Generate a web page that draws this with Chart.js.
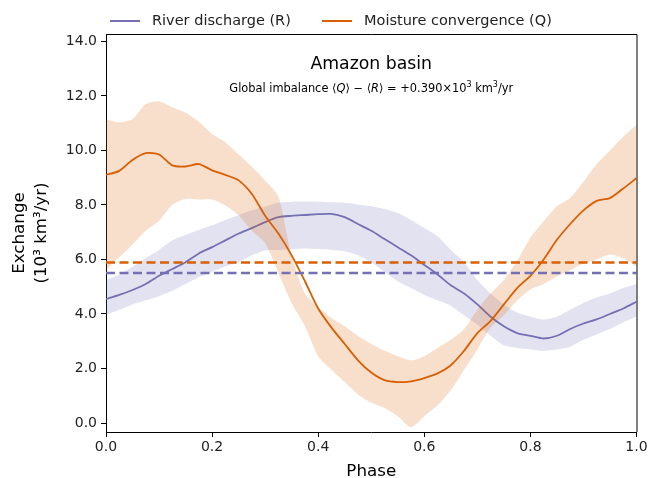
<!DOCTYPE html>
<html>
<head>
<meta charset="utf-8">
<script src="https://cdn.jsdelivr.net/npm/chart.js@4.4.0/dist/chart.umd.min.js"></script>
<style>
  html, body { margin: 0; padding: 0; background: #fff; }
  canvas { display: block; }
</style>
</head>
<body>
<canvas id="chart" width="648" height="478"></canvas>
<script>
// phase grid
const phase = [0, 0.025, 0.05, 0.075, 0.1, 0.125, 0.15, 0.175, 0.2, 0.225,
  0.25, 0.275, 0.3, 0.325, 0.35, 0.375, 0.4, 0.425, 0.45, 0.475,
  0.5, 0.525, 0.55, 0.575, 0.6, 0.625, 0.65, 0.675, 0.7, 0.725,
  0.75, 0.775, 0.8, 0.825, 0.85, 0.875, 0.9, 0.925, 0.95, 0.975, 1.0];

// river discharge R (mean curve + band)
const riverMean = [4.55, 4.7, 4.88, 5.1, 5.4, 5.65, 5.9, 6.22, 6.45, 6.7,
  6.95, 7.15, 7.37, 7.55, 7.6, 7.63, 7.66, 7.67, 7.55, 7.3,
  7.05, 6.75, 6.45, 6.15, 5.8, 5.45, 5.05, 4.75, 4.35, 3.9,
  3.55, 3.3, 3.2, 3.1, 3.2, 3.45, 3.65, 3.8, 4.0, 4.2, 4.45];
const riverUpper = [5.25, 5.45, 5.73, 6.05, 6.35, 6.7, 6.9, 7.08, 7.25, 7.45,
  7.62, 7.8, 7.94, 8.08, 8.12, 8.12, 8.12, 8.1, 8.08, 8.02,
  7.95, 7.85, 7.7, 7.45, 7.15, 6.85, 6.35, 5.9, 5.25, 4.75,
  4.35, 4.05, 3.9, 3.8, 3.9, 4.15, 4.4, 4.6, 4.75, 4.95, 5.1];
const riverLower = [3.96, 4.15, 4.35, 4.5, 4.65, 4.85, 5.1, 5.35, 5.55, 5.75,
  5.9, 6.15, 6.33, 6.35, 6.37, 6.4, 6.38, 6.35, 6.3, 6.15,
  5.9, 5.55, 5.2, 4.95, 4.7, 4.5, 4.3, 3.95, 3.6, 3.2,
  2.85, 2.75, 2.7, 2.65, 2.7, 2.8, 3.05, 3.25, 3.45, 3.7, 3.9];

// moisture convergence Q (mean curve + band)
const moistMean = [9.1, 9.25, 9.65, 9.9, 9.85, 9.45, 9.41, 9.5, 9.27, 9.1,
  8.9, 8.4, 7.6, 6.95, 6.15, 5.2, 4.2, 3.5, 2.9, 2.3,
  1.85, 1.57, 1.5, 1.53, 1.65, 1.82, 2.12, 2.65, 3.3, 3.75,
  4.35, 4.95, 5.4, 6.0, 6.72, 7.3, 7.8, 8.15, 8.25, 8.6, 8.98];
const moistUpper = [11.13, 11.03, 11.15, 11.7, 11.8, 11.58, 11.38, 11.05, 10.6, 10.3,
  9.85, 9.4, 8.9, 8.3, 6.1, 4.75, 4.25, 3.85, 3.55, 3.2,
  2.9, 2.65, 2.45, 2.3, 2.45, 2.75, 3.05, 3.45, 4.15, 4.75,
  5.25, 5.95, 6.8, 7.4, 7.95, 8.25, 8.85, 9.5, 10.0, 10.5, 10.94];
const moistLower = [5.61, 6.08, 6.55, 7.05, 7.42, 8.0, 8.22, 8.2, 8.2, 7.98,
  7.62, 7.05, 6.6, 5.5, 4.4, 3.55, 2.45, 1.95, 1.5, 1.05,
  0.75, 0.55, 0.25, -0.15, 0.25, 0.65, 1.2, 1.95, 2.7, 3.5,
  3.95, 4.5, 4.9, 5.1, 5.37, 5.6, 5.85, 6.0, 6.18, 6.05, 5.73];

// time means
const riverAvg = 5.5;
const moistAvg = 5.89;

const yTicks = [0, 2, 4, 6, 8, 10, 12, 14];
const xTicks = [0, 0.2, 0.4, 0.6, 0.8, 1.0];

const PURPLE = '#7570b3';
const ORANGE = '#d95f02';
const FONT = "'DejaVu Sans', sans-serif";

const pts = arr => arr.map((v, i) => ({ x: phase[i], y: v }));
const flat = v => [{ x: 0, y: v }, { x: 1, y: v }];

const band = (data, color, order, fill) => ({
  data: pts(data), borderWidth: 0, pointRadius: 0, tension: 0.25,
  backgroundColor: color, fill: fill, order: order
});

const frameAndText = {
  id: 'frameAndText',
  afterDraw(chart) {
    const ctx = chart.ctx;
    const a = chart.chartArea;
    ctx.save();
    // top + right spines
    ctx.strokeStyle = '#000';
    ctx.lineWidth = 1;
    ctx.beginPath();
    ctx.moveTo(a.left, a.top + 0.5);
    ctx.lineTo(a.right + 0.5, a.top + 0.5);
    ctx.lineTo(a.right + 0.5, a.bottom);
    ctx.stroke();

    // legend
    const items = [chart.data.datasets[2], chart.data.datasets[5]];
    const lx = [110, 322];
    ctx.font = '14.5px ' + FONT;
    ctx.textBaseline = 'middle';
    ctx.fillStyle = '#222';
    items.forEach((ds, i) => {
      ctx.strokeStyle = ds.borderColor;
      ctx.lineWidth = 2;
      ctx.beginPath();
      ctx.moveTo(lx[i], 21);
      ctx.lineTo(lx[i] + 30, 21);
      ctx.stroke();
      ctx.fillText(ds.label, lx[i] + 42, 21.5);
    });

    // title
    const cx = (a.left + a.right) / 2;
    ctx.textAlign = 'center';
    ctx.textBaseline = 'alphabetic';
    ctx.font = '17.3px ' + FONT;
    ctx.fillStyle = '#000';
    ctx.fillText('Amazon basin', cx, 69);

    // subtitle with italics and superscripts
    const parts = [
      ['Global imbalance \u27E8', 'n'], ['Q', 'i'], ['\u27E9 \u2212 \u27E8', 'n'], ['R', 'i'],
      ['\u27E9 = +0.390\u00D710', 'n'], ['3', 's'], [' km', 'n'], ['3', 's'], ['/yr', 'n']
    ];
    const fontFor = k => k === 'i' ? 'italic 11.4px ' + FONT : (k === 's' ? '8px ' + FONT : '11.4px ' + FONT);
    let total = 0;
    parts.forEach(p => { ctx.font = fontFor(p[1]); total += ctx.measureText(p[0]).width; });
    let x = cx - total / 2;
    ctx.textAlign = 'left';
    parts.forEach(p => {
      ctx.font = fontFor(p[1]);
      ctx.fillText(p[0], x, p[1] === 's' ? 87 : 91.5);
      x += ctx.measureText(p[0]).width;
    });
    ctx.restore();
  }
};

new Chart(document.getElementById('chart'), {
  type: 'line',
  data: {
    datasets: [
      band(riverUpper, 'rgba(117,112,179,0.2)', 8, '+1'),
      band(riverLower, 'rgba(117,112,179,0.2)', 8, false),
      { label: 'River discharge (R)', data: pts(riverMean), borderColor: PURPLE, borderWidth: 1.8,
        pointRadius: 0, tension: 0.25, fill: false, order: 7 },
      band(moistUpper, 'rgba(217,95,2,0.2)', 6, '+1'),
      band(moistLower, 'rgba(217,95,2,0.2)', 6, false),
      { label: 'Moisture convergence (Q)', data: pts(moistMean), borderColor: ORANGE, borderWidth: 1.8,
        pointRadius: 0, tension: 0.25, fill: false, order: 5 },
      { data: flat(riverAvg), borderColor: PURPLE, borderWidth: 2.5, borderDash: [9, 4.5],
        pointRadius: 0, fill: false, order: 2 },
      { data: flat(moistAvg), borderColor: ORANGE, borderWidth: 2.5, borderDash: [9, 4.5],
        pointRadius: 0, fill: false, order: 1 }
    ]
  },
  options: {
    responsive: false,
    animation: false,
    layout: { padding: { top: 34, right: 0, left: 0, bottom: 0 } },
    plugins: { legend: { display: false }, tooltip: { enabled: false } },
    scales: {
      x: {
        type: 'linear', min: 0, max: 1,
        afterBuildTicks: s => { s.ticks = xTicks.map(v => ({ value: v })); },
        afterFit: s => { s.height = 46; s.paddingRight = 11.5; s.paddingLeft = 0; },
        grid: { drawOnChartArea: false, drawTicks: true, tickLength: 5, color: '#000' },
        border: { color: '#000', width: 1 },
        ticks: { color: '#222', font: { family: FONT, size: 14 }, padding: 2, maxRotation: 0,
          callback: v => Number(v).toFixed(1) },
        title: { display: true, text: 'Phase', color: '#000', font: { family: FONT, size: 16.7 }, padding: { top: 0, bottom: -4 } }
      },
      y: {
        min: -0.33, max: 14.27,
        afterBuildTicks: s => { s.ticks = yTicks.map(v => ({ value: v })); },
        afterFit: s => { s.width = 106; },
        grid: { drawOnChartArea: false, drawTicks: true, tickLength: 5, color: '#000' },
        border: { color: '#000', width: 1 },
        ticks: { color: '#222', font: { family: FONT, size: 14 }, padding: 4,
          callback: v => Number(v).toFixed(1) },
        title: { display: true, text: ['Exchange', '(10\u00B3 km\u00B3/yr)'], color: '#000',
          font: { family: FONT, size: 16.7, lineHeight: 1.3 }, padding: { top: 9, bottom: 0 } }
      }
    }
  },
  plugins: [frameAndText]
});
</script>
</body>
</html>
